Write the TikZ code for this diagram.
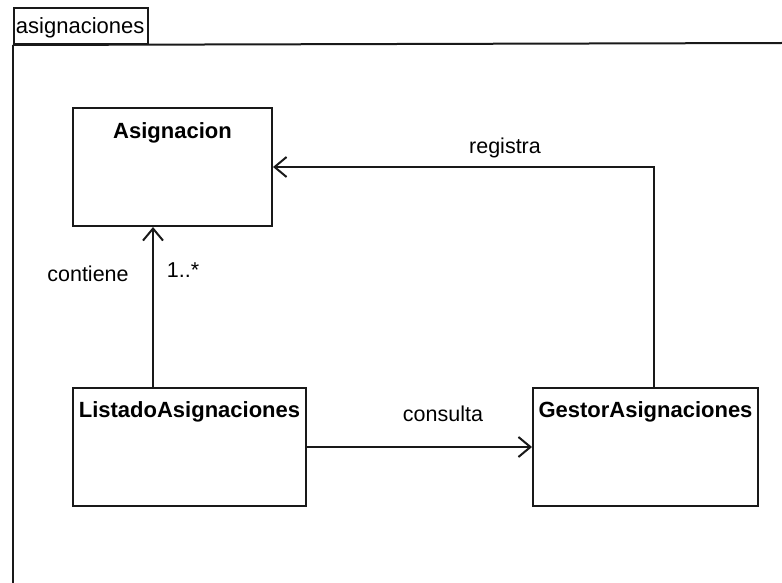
\documentclass[tikz,border=0pt]{standalone}
\usepackage{fontspec}
\setmainfont{Liberation Sans}
\usepackage{xcolor}
\definecolor{lineblack}{RGB}{25, 25, 25}
\usepackage{tikz}
\usetikzlibrary{arrows.meta, positioning, calc}

\tikzset{
    classbox/.style={draw=lineblack, line width=2pt, minimum height=118pt, inner sep=0pt},
    classname/.style={font=\fontsize{22}{26}\selectfont\bfseries, inner sep=0pt},
    assoc/.style={draw=lineblack, line width=2pt, -{Straight Barb[length=12pt, width=20pt]}},
    role/.style={font=\fontsize{21.5}{25}\selectfont, inner sep=0pt},
}

\begin{document}
\begin{tikzpicture}[x=1pt, y=-1pt]
    \useasboundingbox (0,0) rectangle (782,583);

    % package frame
    \node[draw=lineblack, line width=2pt, anchor=north west, text height=24pt, text depth=8pt,
          inner xsep=2pt, inner ysep=2pt, text width=130pt, align=left, font=\fontsize{22}{26}\selectfont] (pkgtab) at (13,7) {asignaciones};
    \draw[lineblack, line width=2pt] (pkgtab.south west) -- (13,583);
    \draw[lineblack, line width=2pt] (pkgtab.south west) -- (782,43);

    % classes
    \node[classbox, minimum width=199pt] (asig) at (172.5,167) {};
    \node[classname, below=15pt of asig.north] (asigname) {Asignacion};
    \node[classbox, minimum width=233pt] (listado) at (189.5,447) {};
    \node[classname, below=14pt of listado.north] (listadoname) {ListadoAsignaciones};
    \node[classbox, minimum width=225pt] (gestor) at (645.5,447) {};
    \node[classname, below=14pt of gestor.north] (gestorname) {GestorAsignaciones};

    % associations
    \draw[assoc] ([xshift=-36.5pt]listado.north) -- ([xshift=-36.5pt]listado.north |- asig.south);
    \draw[assoc] (listado.east) -- (gestor.west);
    \draw[assoc] ([xshift=8.5pt]gestor.north) |- (asig.east);

    \node[role] (contiene) at (88,274) {contiene};
    \node[role] (mult) at (183,270) {1..*};
    \node[role] (registra) at (505,148) {registra};
    \node[role] (consulta) at (443,414) {consulta};
\end{tikzpicture}
\end{document}
